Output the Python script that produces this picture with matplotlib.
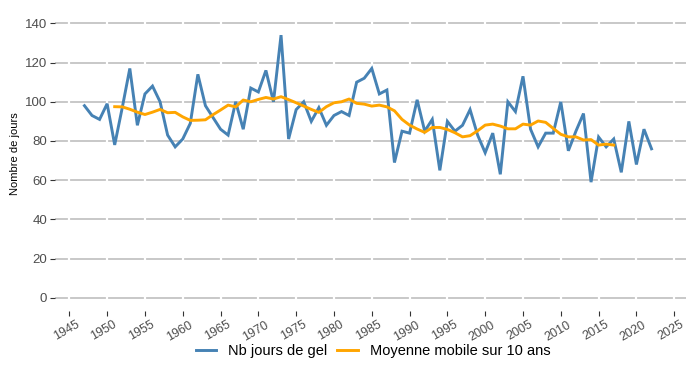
import matplotlib
matplotlib.use("Agg")
import matplotlib.pyplot as plt
import matplotlib.transforms as mtransforms

plt.rcParams['font.family'] = ['Liberation Sans', 'DejaVu Sans']

# Nombre annuel de jours de gel
years = list(range(1947, 2023))
gel = [98, 93, 91, 99, 78, 97, 117, 88, 104, 108,
       100, 83, 77, 81, 89, 114, 98, 92, 86, 83,
       100, 86, 107, 105, 116, 100, 134, 81, 96, 100,
       90, 97, 88, 93, 95, 93, 110, 112, 117, 104,
       106, 69, 85, 84, 101, 85, 91, 65, 90, 85,
       88, 96, 83, 74, 84, 63, 100, 95, 113, 86,
       77, 84, 84, 100, 75, 85, 94, 59, 82, 77,
       81, 64, 90, 68, 86, 76]

# Moyenne mobile sur 10 ans (1951 -> 2017)
mm_years = list(range(1951, 2018))
mm10 = [97.5, 97.4, 96.2, 94.7, 93.5, 94.7, 96.1, 94.4, 94.6, 92.3,
        90.5, 90.6, 90.8, 93.4, 95.8, 98.3, 97.4, 100.9, 100.0, 101.2,
        102.2, 101.4, 102.6, 101.1, 99.5, 97.8, 96.1, 94.6, 97.5, 99.5,
        100.0, 101.4, 99.2, 98.8, 97.8, 98.3, 97.4, 95.4, 91.0, 88.1,
        86.1, 84.4, 86.9, 86.9, 85.9, 84.2, 82.1, 82.7, 85.2, 88.1,
        88.6, 87.6, 86.2, 86.2, 88.6, 88.1, 90.2, 89.5, 86.4, 83.4,
        82.1, 82.1, 80.5, 80.7, 77.9, 78.4, 77.9]

xticks = list(range(1945, 2030, 5))
yticks = list(range(0, 160, 20))

fig = plt.figure(figsize=(6.87, 3.86), dpi=100)
ax = fig.add_axes([0.080, 0.194, 0.919, 0.749])

ax.set_xlim(1943.1, 2026.6)
ax.set_ylim(-6.8, 140.7)

# grille horizontale grise, coupee par des traits blancs verticaux
for y in yticks:
    ax.axhline(y, color='#c4c4c4', linewidth=1.3, zorder=0.5)
for x in xticks:
    ax.axvline(x, color='white', linewidth=1.6, zorder=0.6)

ax.plot(years, gel, color='#4682B4', linewidth=2.1, label='Nb jours de gel',
        solid_joinstyle='miter', zorder=2)
ax.plot(mm_years, mm10, color='#FFA500', linewidth=2.1,
        label='Moyenne mobile sur 10 ans', zorder=3)

for s in ax.spines.values():
    s.set_visible(False)

ax.set_xticks(xticks)
ax.set_xticklabels([str(x) for x in xticks], rotation=30, ha='center')
ax.set_yticks(yticks)
ax.tick_params(axis='both', colors='#333333', labelcolor='#4d4d4d',
               length=3.5, width=0.8, labelsize=9.5)
ax.tick_params(axis='x', labelsize=9, pad=2)
ax.tick_params(axis='y', pad=2)

# decale un peu les etiquettes de x vers la gauche
shift = mtransforms.ScaledTranslation(-3 / 100, 0, fig.dpi_scale_trans)
for lab in ax.get_xticklabels():
    lab.set_transform(lab.get_transform() + shift)

ax.set_ylabel('Nombre de jours', fontsize=8, color='black')
ax.yaxis.set_label_coords(-0.055, 0.545)

fig.legend(loc='center', bbox_to_anchor=(0.543, 0.09), ncol=2, frameon=False,
           fontsize=10.5, handlelength=1.4, columnspacing=0.7, handletextpad=0.8)

fig.savefig('out.png', dpi=100)
